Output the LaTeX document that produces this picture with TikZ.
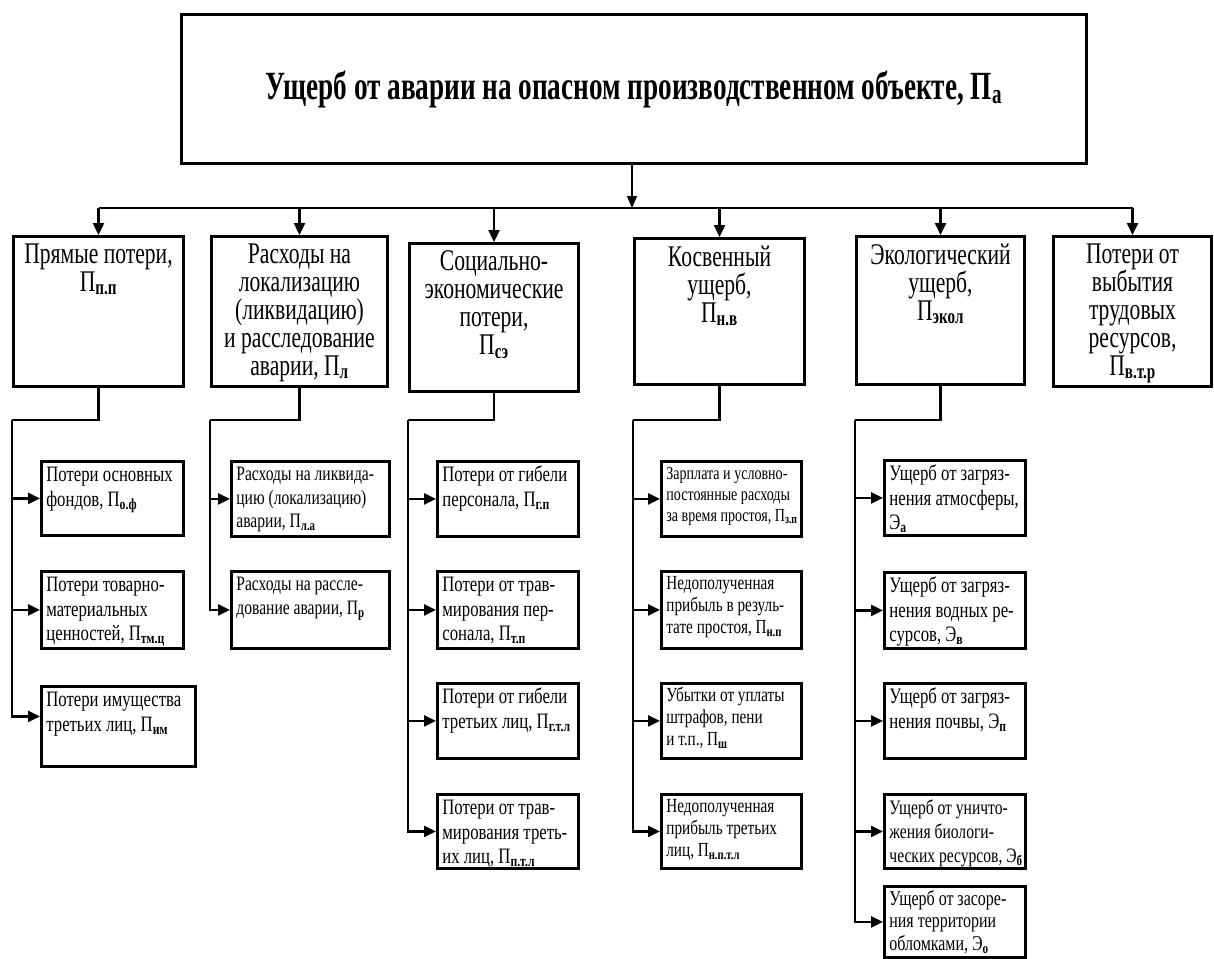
\documentclass[tikz,border=0pt]{standalone}
\usepackage{fontspec}
\setmainfont{Liberation Serif}
\newfontfamily\titlecond{Liberation Serif}[FakeStretch=0.68]
\newfontfamily\seccond{Liberation Serif}[FakeStretch=0.72]
\newfontfamily\kidcond{Liberation Serif}[FakeStretch=0.76]
\usetikzlibrary{positioning,arrows.meta}
\newcommand{\ix}[1]{\textsubscript{\bfseries #1}}
\newcommand{\secbox}[3]{\parbox[c][#2pt][t]{#1pt}{\centering\vspace*{7pt}#3}}
\newcommand{\kidbox}[3]{\parbox[c][#2pt][t]{#1pt}{\vspace*{3pt}\hspace*{5pt}\begin{tabular}[t]{@{}l@{}}#3\end{tabular}}}

\begin{document}
\begin{tikzpicture}[x=1pt,y=-1pt]
                            \tikzset{conn/.style={line width=2.4pt},
                                     arr/.style={line width=2.4pt, -{Triangle[length=12pt,width=11pt]}},
                                     head/.style={draw, line width=3pt, shape=rectangle, anchor=north west,
                                                  minimum width=905pt, minimum height=149pt,
                                                  font=\fontsize{40}{44}\selectfont\titlecond\bfseries},
                                     sect/.style={draw, line width=3pt, shape=rectangle, inner sep=0pt,
                                                  anchor=north west, font=\fontsize{30}{28}\selectfont\seccond},
                                     kid/.style={draw, line width=2.8pt, shape=rectangle, inner sep=0pt,
                                                 anchor=north west, font=\fontsize{22}{24.5}\selectfont\kidcond},
                                     kidb/.style={kid, font=\fontsize{20.5}{23.5}\selectfont\kidcond},
                                     kidd/.style={kid, font=\fontsize{20}{22}\selectfont\kidcond}}
                            \useasboundingbox (0,0) rectangle (1214,958);
                            % top
                            \node[head] (top) at (180,13) {Ущерб от аварии на опасном производственном объекте, П\ix{а}};
                            \coordinate (bus) at (632,208);
                            \coordinate (lvl) at (0,420);
                            % sections
                            \node[sect] (b1) at (12,235) {\secbox{170}{150}{Прямые потери,\\ П\ix{п.п}}};
                            \node[sect] (b2) at (210,235) {\secbox{176}{150}{Расходы на\\ локализацию\\ (ликвидацию)\\ и расследование\\ аварии, П\ix{л}}};
                            \node[sect] (b3) at (408,242) {\secbox{169}{148}{Социально-\\ экономические\\ потери,\\ П\ix{сэ}}};
                            \node[sect] (b4) at (633,237) {\secbox{170}{146}{Косвенный\\ ущерб,\\ П\ix{н.в}}};
                            \node[sect] (b5) at (855,235) {\secbox{168}{148}{Экологический\\ ущерб,\\ П\ix{экол}}};
                            \node[sect] (b6) at (1052,235) {\secbox{158}{150}{Потери от\\ выбытия\\ трудовых\\ ресурсов,\\ П\ix{в.т.р}}};
                            % children
                            \node[kid] (c11) at (40,460) {\kidbox{142}{74}{Потери основных\\ фондов, П\ix{о.ф}}};
                            \node[kid] (c12) at (40,570) {\kidbox{142}{77}{Потери товарно-\\ материальных\\ ценностей, П\ix{тм.ц}}};
                            \node[kid] (c13) at (40,685) {\kidbox{154}{80}{Потери имущества\\ третьих лиц, П\ix{им}}};
                            \node[kidb] (c21) at (230,460) {\kidbox{158}{75}{Расходы на ликвида-\\ цию (локализацию)\\ аварии, П\ix{л.а}}};
                            \node[kidb] (c22) at (230,570) {\kidbox{158}{77}{Расходы на рассле-\\ дование аварии, П\ix{р}}};
                            \node[kid] (c31) at (436,460) {\kidbox{141}{75}{Потери от гибели\\ персонала, П\ix{г.п}}};
                            \node[kid] (c32) at (436,570) {\kidbox{141}{77}{Потери от трав-\\ мирования пер-\\ сонала, П\ix{т.п}}};
                            \node[kid] (c33) at (436,682) {\kidbox{141}{75}{Потери от гибели\\ третьих лиц, П\ix{г.т.л}}};
                            \node[kid] (c34) at (436,793) {\kidbox{141}{74}{Потери от трав-\\ мирования треть-\\ их лиц, П\ix{п.т.л}}};
                            \node[kid, font=\fontsize{18.5}{21}\selectfont\kidcond] (c41) at (660,460) {\kidbox{140}{75}{Зарплата и условно-\\ постоянные расходы\\ за время простоя, П\ix{з.п}}};
                            \node[kidd] (c42) at (660,570) {\kidbox{140}{77}{Недополученная\\ прибыль в резуль-\\ тате простоя, П\ix{н.п}}};
                            \node[kidd] (c43) at (660,682) {\kidbox{140}{75}{Убытки от уплаты\\ штрафов, пени\\ и т.п., П\ix{ш}}};
                            \node[kidd] (c44) at (660,793) {\kidbox{140}{74}{Недополученная\\ прибыль третьих\\ лиц, П\ix{н.п.т.л}}};
                            \node[kid] (c51) at (883,459) {\kidbox{141}{75}{Ущерб от загряз-\\ нения атмосферы,\\ Э\ix{а}}};
                            \node[kid] (c52) at (883,571) {\kidbox{141}{76}{Ущерб от загряз-\\ нения водных ре-\\ сурсов, Э\ix{в}}};
                            \node[kid] (c53) at (883,682) {\kidbox{141}{75}{Ущерб от загряз-\\ нения почвы, Э\ix{п}}};
                            \node[kid, font=\fontsize{20.5}{24}\selectfont\kidcond] (c54) at (883,793) {\kidbox{141}{74}{Ущерб от уничто-\\ жения биологи-\\ ческих ресурсов, Э\ix{б}}};
                            \node[kid, font=\fontsize{21}{22.5}\selectfont\kidcond] (c55) at (883,885) {\kidbox{141}{71}{Ущерб от засоре-\\ ния территории\\ обломками, Э\ix{о}}};
                            % top arrow and bus
                            \draw[line width=1.6pt, -{Triangle[length=12pt,width=10pt]}] (top.south -| bus) -- (bus);
                            \draw[conn] (b1.north |- bus) -- (b6.north |- bus);
                            \foreach \b in {b1,b2,b3,b4,b5,b6}
                                \draw[arr] (\b.north |- bus) -- (\b.north);
                            % trunks
                            \coordinate (k1) at (b1.west |- lvl);
                            \coordinate (k2) at (b2.west |- lvl);
                            \coordinate (k3) at (b3.west |- lvl);
                            \coordinate (k4) at (b4.west |- lvl);
                            \coordinate (k5) at (b5.west |- lvl);
                            \draw[conn] (b1.south) |- (k1);
                            \draw[conn] (b2.south) |- (k2);
                            \draw[conn] (b3.south) |- (k3);
                            \draw[conn] (b4.south) |- (k4);
                            \draw[conn] (b5.south) |- (k5);
                            \draw[arr] (k1) |- (c11.west);
                            \draw[arr] (k1) |- (c12.west);
                            \draw[arr] (k1) |- ([yshift=10pt]c13.west);
                            \draw[arr] (k2) |- (c21.west);
                            \draw[arr] (k2) |- (c22.west);
                            \foreach \c in {c31,c32,c33,c34}
                                \draw[arr] (k3) |- (\c.west);
                            \foreach \c in {c41,c42,c43,c44}
                                \draw[arr] (k4) |- (\c.west);
                            \foreach \c in {c51,c52,c53,c54,c55}
                                \draw[arr] (k5) |- (\c.west);
                        \end{tikzpicture}
\end{document}
